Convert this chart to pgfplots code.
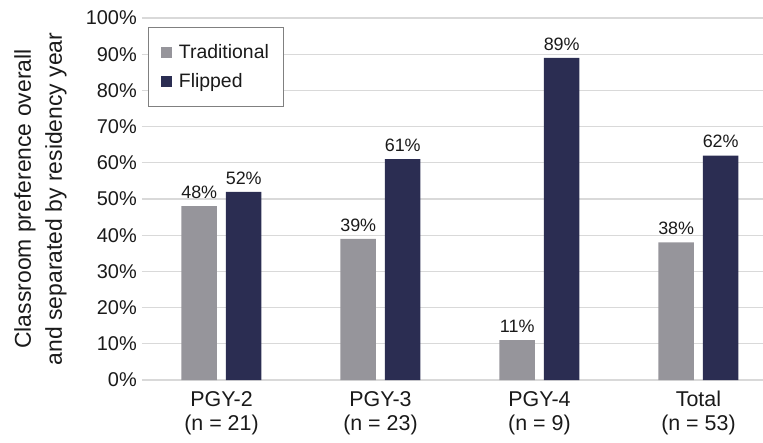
\documentclass[border=0pt]{standalone}
\usepackage{pgfplots}
\pgfplotsset{compat=1.18}
\usepackage{fontspec}
\setmainfont{Liberation Sans}
\definecolor{tradgray}{HTML}{96959B}
\definecolor{flipnavy}{HTML}{2B2D52}
\definecolor{gridgray}{HTML}{D9D9D9}
\definecolor{txt}{HTML}{1A1A1A}
\begin{document}
\begin{tikzpicture}
\begin{axis}[
  scale only axis, width=621bp, height=362bp,
  xmin=-0.5, xmax=3.406, ymin=0, ymax=100,
  enlargelimits=false,
  axis line style={draw=none},
  major tick length=0pt,
  ymajorgrids, grid style={gridgray, line width=1.3bp},
  /pgf/number format/assume math mode=true,
  ybar=9bp, bar width=35.5bp,
  xtick={0,1,2,3},
  xticklabels={{PGY-2\\(n = 21)},{PGY-3\\(n = 23)},{PGY-4\\(n = 9)},{Total\\(n = 53)}},
  xticklabel style={align=center, font=\fontsize{21.5}{24}\selectfont, inner sep=0pt, yshift=-11bp, text=txt},
  ytick={0,10,...,100},
  yticklabels={0\%,10\%,20\%,30\%,40\%,50\%,60\%,70\%,80\%,90\%,100\%},
  yticklabel style={font=\fontsize{20}{20}\selectfont, inner sep=0pt, xshift=-5bp, text=txt},
  ylabel={Classroom preference overall\\and separated by residency year},
  ylabel style={align=center, font=\fontsize{23}{31}\selectfont, at={(axis description cs:-0.1635,0.5)}, anchor=center, text=txt},
  nodes near coords={\pgfmathprintnumber{\pgfplotspointmeta}\%},
  nodes near coords style={font=\fontsize{18}{18}\selectfont, text=txt, yshift=4bp},
  legend image code/.code={\fill[#1] (0bp,-5.25bp) rectangle (10.5bp,5.25bp);},
  legend cell align=left,
  legend style={at={(axis description cs:0,1)}, anchor=north west, xshift=6bp, yshift=-9bp,
    draw=gray, line width=0.8bp, font=\fontsize{19.5}{19.5}\selectfont, text=txt,
    inner xsep=13bp, inner ysep=11bp, nodes={inner xsep=2bp, inner ysep=6.5bp},
    column sep=5bp, cells={anchor=west}},
]
\addplot[fill=tradgray, draw=none] coordinates {(0,48) (1,39) (2,11) (3,38)};
\addlegendentry{Traditional}
\addplot[fill=flipnavy, draw=none] coordinates {(0,52) (1,61) (2,89) (3,62)};
\addlegendentry{Flipped}
\end{axis}
\pgfresetboundingbox
\path[use as bounding box] ([xshift=-142bp,yshift=-63bp]current axis.south west) rectangle ([yshift=18bp]current axis.north east);
\end{tikzpicture}
\end{document}
